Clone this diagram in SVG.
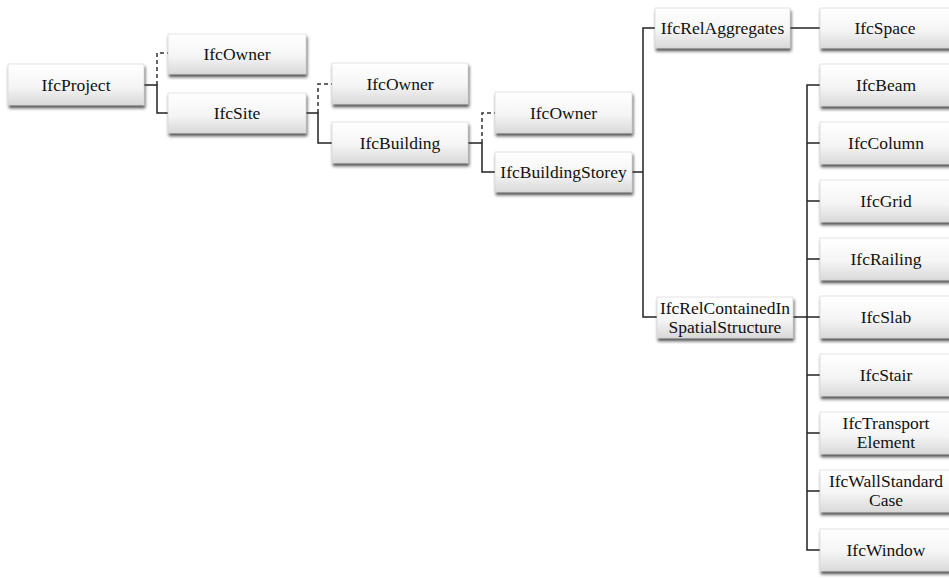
<svg xmlns="http://www.w3.org/2000/svg" width="949" height="579" viewBox="0 0 949 579">
<defs>
<linearGradient id="g" x1="0" y1="0" x2="0" y2="1">
<stop offset="0" stop-color="#ffffff"/>
<stop offset="0.55" stop-color="#f5f5f5"/>
<stop offset="1" stop-color="#d9d9d9"/>
</linearGradient>
<filter id="sh" x="-10%" y="-20%" width="120%" height="150%">
<feDropShadow dx="1" dy="3" stdDeviation="1.6" flood-color="#333" flood-opacity="0.8"/>
</filter>
</defs>
<style>
.box{fill:url(#g);stroke:#d0d0d0;stroke-width:0.6;filter:url(#sh)}
.t{font-family:"Liberation Serif","Times New Roman",serif;font-size:17.5px;fill:#111;text-anchor:middle;dominant-baseline:central}
.c{fill:none;stroke:#222;stroke-width:1.5}
.d{fill:none;stroke:#333;stroke-width:1.5;stroke-dasharray:4 3}
</style>
<rect width="949" height="579" fill="#fff"/>
<g id="connectors">
<path class="c" d="M144 85H157V113H168"/>
<path class="d" d="M157 85V53H168"/>
<path class="c" d="M306 113H318V143H332"/>
<path class="d" d="M318 113V84H332"/>
<path class="c" d="M468 143H482V172H495"/>
<path class="d" d="M482 143V113H495"/>
<path class="c" d="M632 172H643"/>
<path class="c" d="M655 28H643V317H657"/>
<path class="c" d="M790 28H820"/>
<path class="c" d="M793 317H820"/>
<path class="c" d="M820 85H807V550H820"/>
<path class="c" d="M807 143H820M807 201H820M807 259H820M807 375H820M807 433H820M807 491H820"/>
</g>
<g id="IfcProject"><rect class="box" x="8" y="64" width="136" height="41"/><text class="t" x="76" y="85">IfcProject</text></g>
<g id="IfcOwner1"><rect class="box" x="168" y="34" width="138" height="40"/><text class="t" x="237" y="54">IfcOwner</text></g>
<g id="IfcSite"><rect class="box" x="168" y="93" width="138" height="40"/><text class="t" x="237" y="113">IfcSite</text></g>
<g id="IfcOwner2"><rect class="box" x="332" y="63" width="136" height="41"/><text class="t" x="400" y="84">IfcOwner</text></g>
<g id="IfcBuilding"><rect class="box" x="332" y="122" width="136" height="41"/><text class="t" x="400" y="143">IfcBuilding</text></g>
<g id="IfcOwner3"><rect class="box" x="495" y="92" width="137" height="41"/><text class="t" x="563.5" y="113">IfcOwner</text></g>
<g id="IfcBuildingStorey"><rect class="box" x="495" y="152" width="137" height="40"/><text class="t" x="563.5" y="172">IfcBuildingStorey</text></g>
<g id="IfcRelAggregates"><rect class="box" x="655" y="8" width="135" height="40"/><text class="t" x="722.5" y="28">IfcRelAggregates</text></g>
<g id="IfcSpace"><rect class="box" x="820" y="8" width="133" height="40"/><text class="t" x="885" y="28">IfcSpace</text></g>
<g id="IfcRelContainedInSpatialStructure"><rect class="box" x="657" y="297" width="136" height="41"/><text class="t" x="725" y="308">IfcRelContainedIn</text><text class="t" x="725" y="327">SpatialStructure</text></g>
<g id="IfcBeam"><rect class="box" x="820" y="64" width="133" height="42"/><text class="t" x="886" y="85">IfcBeam</text></g>
<g id="IfcColumn"><rect class="box" x="820" y="122" width="133" height="42"/><text class="t" x="886" y="143">IfcColumn</text></g>
<g id="IfcGrid"><rect class="box" x="820" y="180" width="133" height="42"/><text class="t" x="886" y="201">IfcGrid</text></g>
<g id="IfcRailing"><rect class="box" x="820" y="238" width="133" height="42"/><text class="t" x="886" y="259">IfcRailing</text></g>
<g id="IfcSlab"><rect class="box" x="820" y="296" width="133" height="42"/><text class="t" x="886" y="317">IfcSlab</text></g>
<g id="IfcStair"><rect class="box" x="820" y="354" width="133" height="42"/><text class="t" x="886" y="375">IfcStair</text></g>
<g id="IfcTransportElement"><rect class="box" x="820" y="412" width="133" height="42"/><text class="t" x="886" y="423">IfcTransport</text><text class="t" x="886" y="442">Element</text></g>
<g id="IfcWallStandardCase"><rect class="box" x="820" y="470" width="133" height="42"/><text class="t" x="886" y="481">IfcWallStandard</text><text class="t" x="886" y="500">Case</text></g>
<g id="IfcWindow"><rect class="box" x="820" y="529" width="133" height="42"/><text class="t" x="886" y="550">IfcWindow</text></g>
</svg>
